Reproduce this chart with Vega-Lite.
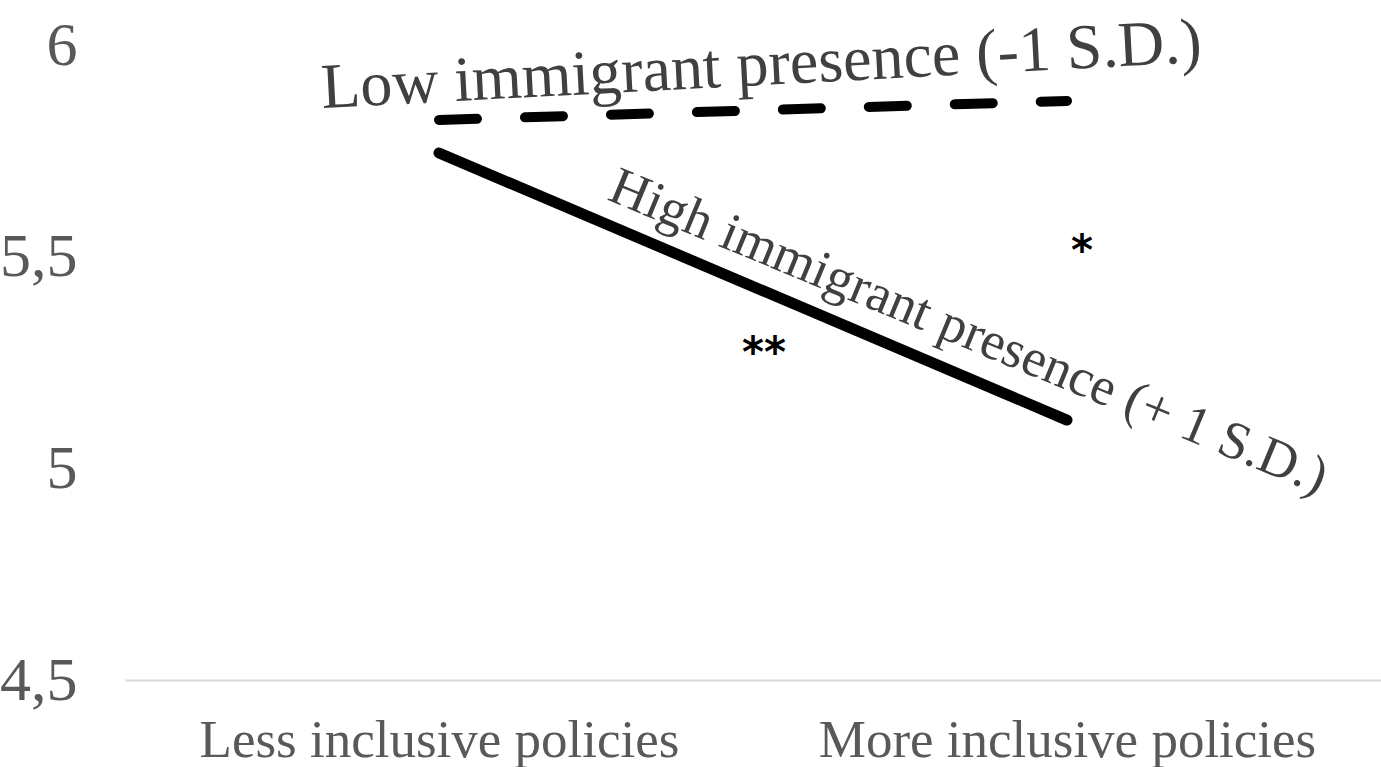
{
  "$schema": "https://vega.github.io/schema/vega-lite/v6.json",
  "width": 1256,
  "height": 635,
  "autosize": {"type": "none"},
  "padding": {"left": 125, "top": 45, "right": 0, "bottom": 87},
  "background": "white",
  "config": {"view": {"stroke": null}, "font": "Liberation Serif"},
  "datasets": {
    "lines": [
      {"policy": "Less inclusive policies", "presence": "Low immigrant presence (-1 S.D.)", "value": 5.823},
      {"policy": "More inclusive policies", "presence": "Low immigrant presence (-1 S.D.)", "value": 5.868},
      {"policy": "Less inclusive policies", "presence": "High immigrant presence (+ 1 S.D.)", "value": 5.745},
      {"policy": "More inclusive policies", "presence": "High immigrant presence (+ 1 S.D.)", "value": 5.114}
    ],
    "stars": [
      {"policy": "Less inclusive policies", "value": 5.27, "sig": "**"},
      {"policy": "More inclusive policies", "value": 5.51, "sig": "*"}
    ]
  },
  "data": {"name": "lines"},
  "encoding": {
    "x": {
      "field": "policy",
      "type": "nominal",
      "scale": {"type": "point", "padding": 0.5, "domain": ["Less inclusive policies", "More inclusive policies"]},
      "axis": {
        "title": null,
        "labelAngle": 0,
        "labelLimit": 0,
        "ticks": false,
        "domainColor": "#d9d9d9",
        "domainWidth": 2,
        "labelPadding": 34,
        "labelFontSize": 53,
        "labelColor": "#595959",
        "labelFont": "Liberation Serif"
      }
    },
    "y": {
      "field": "value",
      "type": "quantitative",
      "scale": {"domain": [4.5, 6], "nice": false, "zero": false},
      "axis": {
        "title": null,
        "values": [4.5, 5, 5.5, 6],
        "labelExpr": "replace(toString(datum.value), '.', ',')",
        "grid": false,
        "domain": false,
        "ticks": false,
        "labelPadding": 48,
        "labelFontSize": 62,
        "labelColor": "#595959",
        "labelFont": "Liberation Serif"
      }
    }
  },
  "layer": [
    {
      "transform": [{"filter": "datum.presence === 'Low immigrant presence (-1 S.D.)'"}],
      "mark": {"type": "line", "color": "black", "strokeWidth": 10, "strokeCap": "round", "strokeDash": [38, 48]}
    },
    {
      "transform": [{"filter": "datum.presence === 'High immigrant presence (+ 1 S.D.)'"}],
      "mark": {"type": "line", "color": "black", "strokeWidth": 11, "strokeCap": "round"}
    },
    {
      "transform": [{"filter": "datum.presence === 'Low immigrant presence (-1 S.D.)' && datum.policy === 'Less inclusive policies'"}],
      "mark": {"type": "text", "align": "left", "baseline": "alphabetic", "angle": -3, "dx": -116, "dy": -18, "fontSize": 64, "font": "Liberation Serif", "color": "#404040"},
      "encoding": {"text": {"field": "presence"}}
    },
    {
      "transform": [{"filter": "datum.presence === 'High immigrant presence (+ 1 S.D.)' && datum.policy === 'Less inclusive policies'"}],
      "mark": {"type": "text", "align": "left", "baseline": "alphabetic", "angle": 22.5, "dx": 172, "dy": -21, "fontSize": 53.5, "font": "Liberation Serif", "color": "#404040"},
      "encoding": {"text": {"field": "presence"}}
    },
    {
      "data": {"name": "stars"},
      "transform": [{"filter": "datum.sig === '**'"}],
      "mark": {"type": "text", "align": "center", "baseline": "middle", "dx": 325, "fontSize": 42, "fontWeight": "bold", "font": "DejaVu Sans", "color": "black"},
      "encoding": {"text": {"field": "sig"}}
    },
    {
      "data": {"name": "stars"},
      "transform": [{"filter": "datum.sig === '*'"}],
      "mark": {"type": "text", "align": "center", "baseline": "middle", "dx": 15, "fontSize": 42, "fontWeight": "bold", "font": "DejaVu Sans", "color": "black"},
      "encoding": {"text": {"field": "sig"}}
    }
  ]
}
